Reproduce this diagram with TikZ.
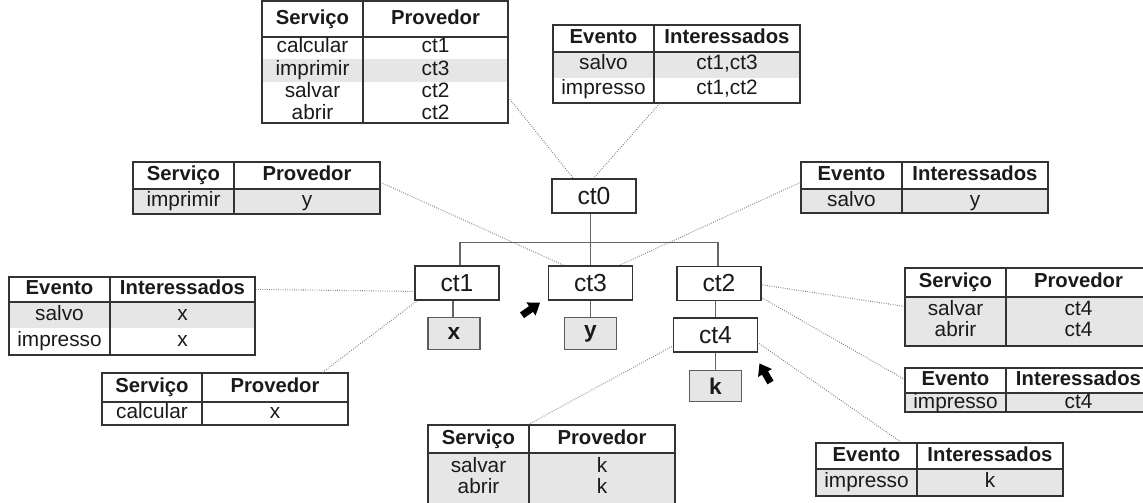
\documentclass[tikz,border=0pt]{standalone}
\usepackage{fontspec}
\setmainfont{Liberation Sans}
\usetikzlibrary{fit,calc}
\definecolor{sombra}{HTML}{E6E6E6}
\definecolor{borda}{HTML}{333333}
\definecolor{texto}{HTML}{1A1A1A}

\begin{document}
\begin{tikzpicture}[x=0.75pt,y=-0.75pt,
    tabela/.style={draw=borda, line width=0.9pt, inner sep=0pt},
    grade/.style={draw=borda, line width=0.9pt},
    cab/.style={font=\fontsize{15.2}{18}\selectfont\bfseries, text=texto, inner sep=0pt, text height=11pt, text depth=3.2pt},
    cel/.style={font=\fontsize{15.6}{18}\selectfont, text=texto, inner sep=0pt, text height=9.5pt, text depth=2pt},
    contexto/.style={draw=borda, line width=0.9pt, fill=white, minimum width=63pt, minimum height=25.5pt, inner sep=0pt, font=\fontsize{18.5}{22}\selectfont, text=texto},
    folha/.style={draw=borda!80, line width=0.9pt, fill=sombra, minimum width=39pt, minimum height=23.5pt, inner sep=0pt, font=\fontsize{17}{20}\selectfont\bfseries, text=texto},
    arvore/.style={draw=borda!75, line width=0.9pt},
    liga/.style={draw=borda!70, line width=0.8pt, dash pattern=on 0.5pt off 1.2pt},
    seta/.style={fill=black}]
    \clip (0,0) rectangle (1143,503);

    % arvore de contextos
    \node[contexto] (ct0) at (594,196) {ct0};
    \node[contexto] (ct1) at (457,283) {ct1};
    \node[contexto] (ct3) at (590.5,283) {ct3};
    \node[contexto] (ct2) at (719,283.5) {ct2};
    \node[contexto] (ct4) at (715.5,335) {ct4};
    \node[folha] (x) at (454,333.5) {x};
    \node[folha] (y) at (590.5,333.5) {y};
    \node[folha] (k) at (715.5,386) {k};

    \draw[arvore] (ct0.south -| ct3.north) -- (ct3.north);
    \draw[arvore] ([xshift=2.2pt]ct1.north) -- ++(0,-23) -| ([xshift=-0.8pt]ct2.north);
    \draw[arvore] ([xshift=-3pt]ct1.south) -- ([xshift=-3pt]ct1.south |- x.north);
    \draw[arvore] (ct3.south) -- (y.north);
    \draw[arvore] (ct2.south -| ct4.north) -- (ct4.north);
    \draw[arvore] (ct4.south) -- (k.north);

    % ct0: servicos
    \fill[sombra] (262,59) rectangle (508,82);
    \node[tabela, fit={(262,1) (508,123)}] (tsv0) {};
    \draw[grade] (363,1) -- (363,123) (262,37) -- (508,37);
    \node[cab] (sv0a) at (312.5,19) {Serviço};
    \node[cab] (sv0b) at (435.5,19) {Provedor};
    \node[cel] (sv0c) at (312.5,48) {calcular};
    \node[cel] (sv0d) at (435.5,48) {ct1};
    \node[cel] (sv0e) at (312.5,71) {imprimir};
    \node[cel] (sv0f) at (435.5,71) {ct3};
    \node[cel] (sv0g) at (312.5,93) {salvar};
    \node[cel] (sv0h) at (435.5,93) {ct2};
    \node[cel] (sv0i) at (312.5,114) {abrir};
    \node[cel] (sv0j) at (435.5,114) {ct2};

    % ct0: eventos
    \fill[sombra] (553,52) rectangle (800,78);
    \node[tabela, fit={(553,25) (800,103)}] (tev0) {};
    \draw[grade] (654,25) -- (654,103) (553,52) -- (800,52);
    \node[cab] (ev0a) at (603.5,38.5) {Evento};
    \node[cab] (ev0b) at (727,38.5) {Interessados};
    \node[cel] (ev0c) at (603.5,65) {salvo};
    \node[cel] (ev0d) at (727,65) {ct1,ct3};
    \node[cel] (ev0e) at (603.5,90) {impresso};
    \node[cel] (ev0f) at (727,90) {ct1,ct2};

    % ct3: servicos
    \fill[sombra] (133,189) rectangle (380,214);
    \node[tabela, fit={(133,162) (380,214)}] (tsv3) {};
    \draw[grade] (234,162) -- (234,214) (133,189) -- (380,189);
    \node[cab] (sv3a) at (183.5,175.5) {Serviço};
    \node[cab] (sv3b) at (307,175.5) {Provedor};
    \node[cel] (sv3c) at (183.5,201.5) {imprimir};
    \node[cel] (sv3d) at (307,201.5) {y};

    % ct3: eventos
    \fill[sombra] (801,189) rectangle (1048,213);
    \node[tabela, fit={(801,162) (1048,213)}] (tev3) {};
    \draw[grade] (902,162) -- (902,213) (801,189) -- (1048,189);
    \node[cab] (ev3a) at (851.5,175.5) {Evento};
    \node[cab] (ev3b) at (975,175.5) {Interessados};
    \node[cel] (ev3c) at (851.5,201) {salvo};
    \node[cel] (ev3d) at (975,201) {y};

    % ct1: eventos
    \fill[sombra] (9,302) rectangle (255,328);
    \node[tabela, fit={(9,277) (255,355)}] (tev1) {};
    \draw[grade] (110,277) -- (110,355) (9,302) -- (255,302);
    \node[cab] (ev1a) at (59.5,289.5) {Evento};
    \node[cab] (ev1b) at (182.5,289.5) {Interessados};
    \node[cel] (ev1c) at (59.5,315) {salvo};
    \node[cel] (ev1d) at (182.5,315) {x};
    \node[cel] (ev1e) at (59.5,341) {impresso};
    \node[cel] (ev1f) at (182.5,341) {x};

    % ct1: servicos
    \node[tabela, fit={(102,373) (348,425)}] (tsv1) {};
    \draw[grade] (202,373) -- (202,425) (102,402) -- (348,402);
    \node[cab] (sv1a) at (152,387.5) {Serviço};
    \node[cab] (sv1b) at (275,387.5) {Provedor};
    \node[cel] (sv1c) at (152,413.5) {calcular};
    \node[cel] (sv1d) at (275,413.5) {x};

    % ct2: servicos
    \fill[sombra] (905,297) rectangle (1151,346);
    \node[tabela, fit={(905,268) (1151,346)}] (tsv2) {};
    \draw[grade] (1006,268) -- (1006,346) (905,297) -- (1151,297);
    \node[cab] (sv2a) at (955.5,282.5) {Serviço};
    \node[cab] (sv2b) at (1078.5,282.5) {Provedor};
    \node[cel] (sv2c) at (955.5,310) {salvar};
    \node[cel] (sv2d) at (1078.5,310) {ct4};
    \node[cel] (sv2e) at (955.5,331) {abrir};
    \node[cel] (sv2f) at (1078.5,331) {ct4};

    % ct2: eventos
    \fill[sombra] (905,393) rectangle (1151,412);
    \node[tabela, fit={(905,368) (1151,412)}] (tev2) {};
    \draw[grade] (1006,368) -- (1006,412) (905,393) -- (1151,393);
    \node[cab] (ev2a) at (955.5,380.5) {Evento};
    \node[cab] (ev2b) at (1078.5,380.5) {Interessados};
    \node[cel] (ev2c) at (955.5,403.5) {impresso};
    \node[cel] (ev2d) at (1078.5,403.5) {ct4};

    % ct4: servicos
    \fill[sombra] (428,453) rectangle (675,506);
    \node[tabela, fit={(428,425) (675,506)}] (tsv4) {};
    \draw[grade] (529,425) -- (529,506) (428,453) -- (675,453);
    \node[cab] (sv4a) at (478.5,439) {Serviço};
    \node[cab] (sv4b) at (602,439) {Provedor};
    \node[cel] (sv4c) at (478.5,467) {salvar};
    \node[cel] (sv4d) at (602,467) {k};
    \node[cel] (sv4e) at (478.5,488) {abrir};
    \node[cel] (sv4f) at (602,488) {k};

    % ct4: eventos
    \fill[sombra] (816,469) rectangle (1063,496);
    \node[tabela, fit={(816,443) (1063,496)}] (tev4) {};
    \draw[grade] (917,443) -- (917,496) (816,469) -- (1063,469);
    \node[cab] (ev4a) at (866.5,456) {Evento};
    \node[cab] (ev4b) at (990,456) {Interessados};
    \node[cel] (ev4c) at (866.5,482.5) {impresso};
    \node[cel] (ev4d) at (990,482.5) {k};

    % ligacoes pontilhadas
    \draw[liga] ($(tsv0.south east)+(0,-26)$) -- ($(ct0.north west)+(22,0)$);
    \draw[liga] ($(tev0.south west)+(107,0)$) -- ($(ct0.north west)+(42,0)$);
    \draw[liga] ($(tsv3.north east)+(0,21)$) -- ($(ct3.north west)+(16,0)$);
    \draw[liga] ($(tev3.north west)+(0,21)$) -- ($(ct3.north east)+(-14,0)$);
    \draw[liga] ($(tev1.north east)+(0,13)$) -- ($(ct1.north west)+(0,26)$);
    \draw[liga] ($(tsv1.north west)+(221,0)$) -- ($(ct1.south west)+(3,0)$);
    \draw[liga] ($(ct2.north east)+(1,19)$) -- ($(tsv2.north west)+(0,39)$);
    \draw[liga] ($(ct2.south east)+(1,-3)$) -- ($(tev2.north west)+(0,12)$);
    \draw[liga] ($(ct4.south west)+(-1,-6)$) -- ($(tsv4.north west)+(101,0)$);
    \draw[liga] ($(ct4.south east)+(1,-9)$) -- ($(tev4.north west)+(86,0)$);

    % setas
    \fill[seta, shift={(531,309)}, rotate=35] (-11,-3.5) -- (0,-3.5) -- (0,-8) -- (11,0) -- (0,8) -- (0,3.5) -- (-11,3.5) -- cycle;
    \fill[seta, shift={(765,373)}, rotate=120] (-11,-3.5) -- (0,-3.5) -- (0,-8) -- (11,0) -- (0,8) -- (0,3.5) -- (-11,3.5) -- cycle;
\end{tikzpicture}
\end{document}
